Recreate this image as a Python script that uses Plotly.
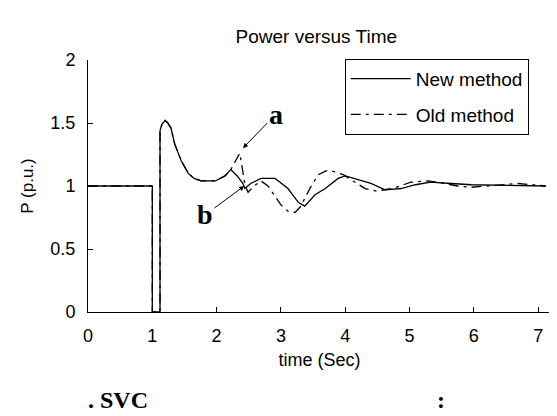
import plotly.graph_objects as go

# ---- data ----
new_t = [0, 1.0, 1.0, 1.12, 1.12, 1.15, 1.20, 1.24, 1.29, 1.35, 1.45, 1.56, 1.65, 1.76,
         1.98, 2.13, 2.22, 2.32, 2.41, 2.44, 2.53, 2.69, 2.91, 3.11, 3.27, 3.37, 3.53,
         3.69, 3.89, 4.0, 4.2, 4.4, 4.62, 4.87, 5.09, 5.33, 5.65, 5.96, 7.12]
new_p = [1, 1, 0, 0, 1.44, 1.49, 1.52, 1.50, 1.46, 1.33, 1.20, 1.10, 1.06, 1.04,
         1.04, 1.08, 1.13, 1.08, 1.02, 0.98, 1.02, 1.06, 1.06, 0.98, 0.87, 0.84, 0.93,
         0.98, 1.06, 1.08, 1.05, 1.02, 0.97, 0.98, 1.01, 1.03, 1.02, 1.01, 1.0]

old_t = [0, 1.0, 1.0, 1.12, 1.12, 1.15, 1.20, 1.24, 1.29, 1.35, 1.45, 1.56, 1.65, 1.76,
         1.98, 2.13, 2.22, 2.30, 2.36, 2.40, 2.44, 2.49, 2.58, 2.69, 2.80, 2.88, 3.0,
         3.11, 3.22, 3.31, 3.45, 3.58, 3.70, 3.79, 3.97, 4.12, 4.31, 4.48, 4.74, 5.02,
         5.29, 5.55, 5.75, 5.96, 6.17, 6.45, 6.69, 7.12]
old_p = [1, 1, 0, 0, 1.44, 1.49, 1.52, 1.50, 1.46, 1.33, 1.20, 1.10, 1.06, 1.04,
         1.04, 1.08, 1.13, 1.21, 1.26, 1.14, 1.01, 0.95, 1.0, 1.04, 1.0, 0.94, 0.85,
         0.80, 0.79, 0.84, 0.98, 1.09, 1.12, 1.12, 1.09, 1.04, 0.98, 0.96, 0.98, 1.03,
         1.04, 1.02, 1.0, 0.99, 1.0, 1.01, 1.02, 1.0]

x_ticks = [0, 1, 2, 3, 4, 5, 6, 7]
y_ticks = [0, 0.5, 1, 1.5, 2]
y_tick_labels = ["0", "0.5", "1", "1.5", "2"]

FONT = "Liberation Sans, Arial, sans-serif"
SERIF = "Liberation Serif, Times New Roman, serif"

fig = go.Figure()
fig.add_trace(go.Scatter(x=new_t, y=new_p, mode="lines", name="New method",
                         line=dict(color="black", width=1.3), cliponaxis=False,
                         legendgroup="a"))
fig.add_trace(go.Scatter(x=old_t, y=old_p, mode="lines", name="Old method",
                         line=dict(color="black", width=1.3, dash="10px,5px,3px,5px"),
                         cliponaxis=False, legendgroup="b"))

fig.update_layout(
    width=557, height=416,
    margin=dict(l=80, r=14, t=52, b=112),
    paper_bgcolor="white", plot_bgcolor="white",
    font=dict(family=FONT, color="black", size=18),
    title=dict(text="Power versus Time", x=0.5535, xanchor="center",
               y=1 - 28 / 416, yanchor="middle", font=dict(size=19, family=FONT)),
    showlegend=True,
    legend=dict(x=0.952, y=1.005, xanchor="right", yanchor="top",
                bordercolor="black", borderwidth=1, bgcolor="white",
                font=dict(size=19, family=FONT), itemwidth=60,
                tracegroupgap=8, traceorder="grouped"),
    xaxis=dict(range=[0, 7.2], tickvals=x_ticks, ticks="inside", ticklen=5,
               tickcolor="black", showline=True, linecolor="black", linewidth=1,
               showgrid=False, zeroline=False, ticklabelstandoff=7,
               title=dict(text="time (Sec)", standoff=8, font=dict(size=18)),
               tickfont=dict(size=18)),
    yaxis=dict(range=[0, 2], tickvals=y_ticks, ticktext=y_tick_labels,
               ticks="inside", ticklen=5, tickcolor="black", showline=True,
               linecolor="black", linewidth=1, showgrid=False, zeroline=False,
               ticklabelstandoff=8,
               title=dict(text="P (p.u.)", standoff=12, font=dict(size=17)),
               tickfont=dict(size=18)),
)

# arrow annotations "a" and "b"
fig.add_annotation(x=2.41, y=1.30, ax=2.92, ay=1.57, axref="x", ayref="y",
                   text="<b>a</b>", showarrow=True, arrowhead=2, arrowsize=1,
                   arrowwidth=1, arrowcolor="black", standoff=0,
                   font=dict(family=SERIF, size=28, color="black"))
fig.add_annotation(x=2.43, y=1.0, ax=1.82, ay=0.77, axref="x", ayref="y",
                   text="<b>b</b>", showarrow=True, arrowhead=2, arrowsize=1,
                   arrowwidth=1, arrowcolor="black", standoff=0,
                   font=dict(family=SERIF, size=28, color="black"))

# caption fragments below the chart
fig.add_annotation(xref="paper", yref="paper", x=(78 - 80) / 463, y=-(392 - 304) / 252,
                   xanchor="left", yanchor="middle", showarrow=False,
                   text="<b>. SVC</b>", font=dict(family=SERIF, size=24, color="black"))
fig.add_annotation(xref="paper", yref="paper", x=(433 - 80) / 463, y=-(392 - 304) / 252,
                   xanchor="center", yanchor="middle", showarrow=False,
                   text="<b>:</b>", font=dict(family=SERIF, size=24, color="black"))

fig.write_html("out.html")
